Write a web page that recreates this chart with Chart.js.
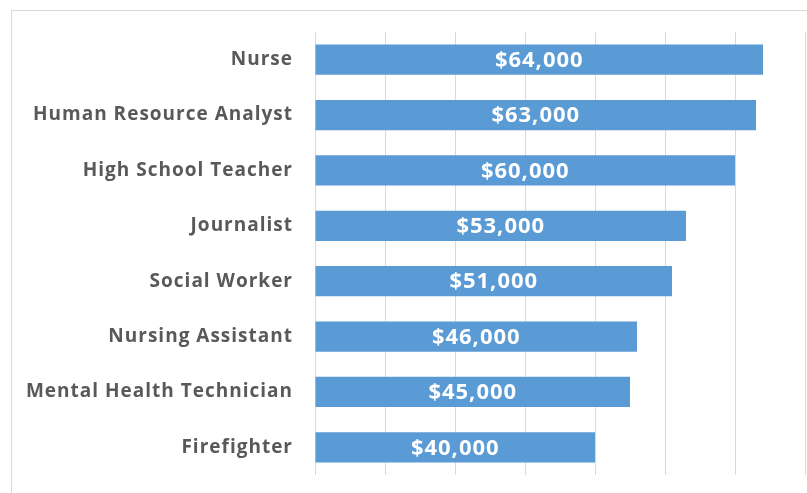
<!DOCTYPE html>
<html>
<head>
<meta charset="utf-8">
<script src="https://cdn.jsdelivr.net/npm/chart.js@4"></script>
<style>
html,body{margin:0;padding:0;background:#fff;}
#wrap{position:relative;width:807px;height:493px;overflow:hidden;}
#frame{position:absolute;left:11px;top:10px;width:820px;height:500px;border:1px solid #d9d9d9;box-sizing:border-box;}
canvas{position:absolute;left:0;top:0;}
</style>
</head>
<body>
<div id="wrap">
<div id="frame"></div>
<canvas id="c" width="807" height="493"></canvas>
</div>
<script>
const categories = ["Nurse","Human Resource Analyst","High School Teacher","Journalist","Social Worker","Nursing Assistant","Mental Health Technician","Firefighter"];
const salaries = [64000,63000,60000,53000,51000,46000,45000,40000];
const xMin = 0, xMax = 70000, xStep = 10000;

const spacingPlugin = {
  id:'spacing',
  beforeInit(chart){ chart.ctx.letterSpacing = '1px'; },
  beforeDraw(chart){ chart.ctx.letterSpacing = '1px'; }
};

const labelPlugin = {
  id:'barLabels',
  afterDatasetsDraw(chart){
    const ctx = chart.ctx;
    const meta = chart.getDatasetMeta(0);
    ctx.save();
    ctx.letterSpacing = '1px';
    ctx.fillStyle = '#ffffff';
    ctx.font = 'bold 22px "Open Sans"';
    ctx.textAlign = 'center';
    ctx.textBaseline = 'middle';
    meta.data.forEach((bar,i)=>{
      const cx = (bar.x + bar.base)/2;
      ctx.fillText('$' + salaries[i].toLocaleString('en-US'), cx, bar.y+1);
    });
    ctx.restore();
  }
};

new Chart(document.getElementById('c'), {
  type:'bar',
  data:{labels:categories,datasets:[{data:salaries,backgroundColor:'#5b9bd5',borderWidth:0,barPercentage:0.545,categoryPercentage:1}]},
  options:{
    indexAxis:'y',
    responsive:false,
    animation:false,
    layout:{padding:{left:0,right:2,top:32,bottom:18}},
    plugins:{legend:{display:false},tooltip:{enabled:false}},
    scales:{
      x:{min:xMin,max:xMax,ticks:{display:false,stepSize:xStep},
         grid:{color:'#d9d9d9',drawTicks:false,lineWidth:1},border:{display:false},
         afterFit(s){s.height=0;s.paddingLeft=0;s.paddingRight=0;}},
      y:{ticks:{color:'#595959',font:{family:'"Open Sans"',size:19,weight:'bold'},padding:22},
         grid:{display:false,drawTicks:false},border:{display:false},
         afterFit(s){s.width=315;s.paddingTop=0;s.paddingBottom=0;}}
    }
  },
  plugins:[spacingPlugin,labelPlugin]
});
</script>
</body>
</html>
